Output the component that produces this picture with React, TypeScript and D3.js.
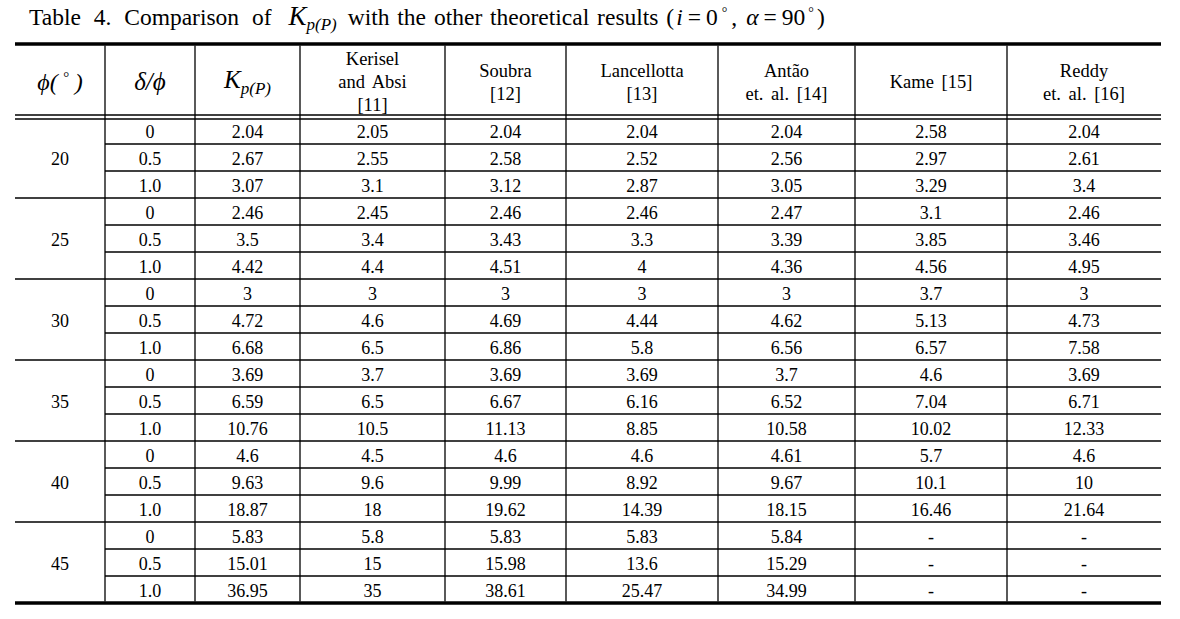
import React, { useEffect, useRef } from "react";
import * as d3 from "d3";

// table values
const phiGroups = ["20", "25", "30", "35", "40", "45"];
const ratios = ["0", "0.5", "1.0"];

const kpP = ["2.04", "2.67", "3.07", "2.46", "3.5", "4.42", "3", "4.72", "6.68", "3.69", "6.59", "10.76", "4.6", "9.63", "18.87", "5.83", "15.01", "36.95"];
const kerisel = ["2.05", "2.55", "3.1", "2.45", "3.4", "4.4", "3", "4.6", "6.5", "3.7", "6.5", "10.5", "4.5", "9.6", "18", "5.8", "15", "35"];
const soubra = ["2.04", "2.58", "3.12", "2.46", "3.43", "4.51", "3", "4.69", "6.86", "3.69", "6.67", "11.13", "4.6", "9.99", "19.62", "5.83", "15.98", "38.61"];
const lancellotta = ["2.04", "2.52", "2.87", "2.46", "3.3", "4", "3", "4.44", "5.8", "3.69", "6.16", "8.85", "4.6", "8.92", "14.39", "5.83", "13.6", "25.47"];
const antao = ["2.04", "2.56", "3.05", "2.47", "3.39", "4.36", "3", "4.62", "6.56", "3.7", "6.52", "10.58", "4.61", "9.67", "18.15", "5.84", "15.29", "34.99"];
const kame = ["2.58", "2.97", "3.29", "3.1", "3.85", "4.56", "3.7", "5.13", "6.57", "4.6", "7.04", "10.02", "5.7", "10.1", "16.46", "-", "-", "-"];
const reddy = ["2.04", "2.61", "3.4", "2.46", "3.46", "4.95", "3", "4.73", "7.58", "3.69", "6.71", "12.33", "4.6", "10", "21.64", "-", "-", "-"];

const headerLines = [
  null,
  null,
  null,
  ["Kerisel", "and Absi", "[11]"],
  ["Soubra", "[12]"],
  ["Lancellotta", "[13]"],
  ["Antão", "et. al. [14]"],
  ["Kame [15]"],
  ["Reddy", "et. al. [16]"],
];

// column edges (layout)
const colEdges = [15, 105, 195, 300, 445, 566, 718, 855, 1007, 1161];

const FONT = "'Liberation Serif', 'Times New Roman', serif";
const INK = "#000";

export default function App() {
  const ref = useRef<SVGSVGElement>(null);

  useEffect(() => {
    const svg = d3.select(ref.current);
    svg.selectAll("*").remove();

    const width = 1180;
    const height = 619;
    const left = colEdges[0];
    const right = colEdges[colEdges.length - 1];
    const topLine = 44;
    const headBottom = 117;
    const nRows = phiGroups.length * ratios.length;

    const y = d3.scaleLinear().domain([0, nRows]).range([headBottom, headBottom + 27 * nRows]);
    const bottomLine = y(nRows);

    const g = svg.append("g").attr("font-family", FONT).attr("fill", INK);

    // title
    const title = g
      .append("text")
      .attr("x", 29)
      .attr("y", 25)
      .attr("font-size", 23.5)
      .attr("word-spacing", 2);
    title.append("tspan").attr("word-spacing", 7).text("Table 4. Comparison of ");
    title.append("tspan").attr("dx", 4).attr("font-style", "italic").attr("font-size", 27).text("K");
    title.append("tspan").attr("font-style", "italic").attr("font-size", 17).attr("dy", 5).text("p(P)");
    title.append("tspan").attr("dy", -5).attr("dx", 11).text("with the other theoretical results (");
    title.append("tspan").attr("dx", 2).attr("font-style", "italic").text("i");
    title.append("tspan").attr("dx", 5).text("=");
    title.append("tspan").attr("dx", 5).text("0");
    title.append("tspan").attr("font-size", 14).attr("dy", -8).attr("dx", 4).text("°");
    title.append("tspan").attr("dy", 8).attr("dx", 4).text(",");
    title.append("tspan").attr("dx", 9).attr("font-style", "italic").text("α");
    title.append("tspan").attr("dx", 5).text("=");
    title.append("tspan").attr("dx", 5).text("90");
    title.append("tspan").attr("font-size", 14).attr("dy", -8).attr("dx", 3).text("°");
    title.append("tspan").attr("dy", 8).attr("dx", 3).text(")");

    // rules
    const lines = g.append("g").attr("stroke", "#000");
    lines.append("line").attr("x1", left).attr("x2", right).attr("y1", topLine).attr("y2", topLine).attr("stroke-width", 3.5);
    lines.append("line").attr("x1", left).attr("x2", right).attr("y1", 115).attr("y2", 115).attr("stroke-width", 1.3);
    lines.append("line").attr("x1", left).attr("x2", right).attr("y1", 119).attr("y2", 119).attr("stroke-width", 1.3);
    lines.append("line").attr("x1", left).attr("x2", right).attr("y1", bottomLine).attr("y2", bottomLine).attr("stroke-width", 3.5);

    d3.range(1, nRows).forEach((i) => {
      const groupEdge = i % ratios.length === 0;
      lines
        .append("line")
        .attr("x1", groupEdge ? left : colEdges[1])
        .attr("x2", right)
        .attr("y1", y(i))
        .attr("y2", y(i))
        .attr("stroke-width", 1.3);
    });

    colEdges.slice(1, -1).forEach((cx) => {
      lines
        .append("line")
        .attr("x1", cx)
        .attr("x2", cx)
        .attr("y1", topLine + 1.5)
        .attr("y2", bottomLine - 1.5)
        .attr("stroke-width", 1.3);
    });

    const mid = (c: number) => (colEdges[c] + colEdges[c + 1]) / 2;

    // header
    const head = g.append("g").attr("text-anchor", "middle").attr("font-size", 18.5);
    const hMid = 82;

    const phiHead = head.append("text").attr("x", mid(0)).attr("y", hMid + 8).attr("font-size", 24).attr("font-style", "italic");
    phiHead.append("tspan").text("ϕ(");
    phiHead.append("tspan").attr("font-size", 15).attr("dy", -8).attr("dx", 5).text("°");
    phiHead.append("tspan").attr("dy", 8).attr("dx", 6).text(")");

    head.append("text").attr("x", mid(1)).attr("y", hMid + 8).attr("font-size", 25).attr("font-style", "italic").text("δ/ϕ");

    const kHead = head.append("text").attr("x", mid(2)).attr("y", hMid + 6).attr("font-style", "italic");
    kHead.append("tspan").attr("font-size", 25).text("K");
    kHead.append("tspan").attr("font-size", 17).attr("dy", 6).text("p(P)");

    headerLines.forEach((hl, c) => {
      if (!hl) return;
      const lh = 23;
      const start = hMid - ((hl.length - 1) * lh) / 2;
      hl.forEach((t, k) => {
        head
          .append("text")
          .attr("x", mid(c))
          .attr("y", start + k * lh + 6)
          .attr("word-spacing", 3)
          .text(t);
      });
    });

    // body
    const body = g.append("g").attr("text-anchor", "middle").attr("font-size", 18);
    phiGroups.forEach((p, gi) => {
      const r0 = gi * ratios.length;
      body
        .append("text")
        .attr("x", mid(0))
        .attr("y", (y(r0) + y(r0 + ratios.length)) / 2 + 7)
        .text(p);
    });

    const columns = [kpP, kerisel, soubra, lancellotta, antao, kame, reddy];
    d3.range(nRows).forEach((i) => {
      const cy = (y(i) + y(i + 1)) / 2 + 7;
      body.append("text").attr("x", mid(1)).attr("y", cy).text(ratios[i % ratios.length]);
      columns.forEach((col, c) => {
        body.append("text").attr("x", mid(c + 2)).attr("y", cy).text(col[i]);
      });
    });

    svg.attr("width", width).attr("height", height);
  }, []);

  return (
    <svg
      ref={ref}
      style={{ position: "absolute", left: 0, top: 0, display: "block", background: "#fff" }}
    ></svg>
  );
}
